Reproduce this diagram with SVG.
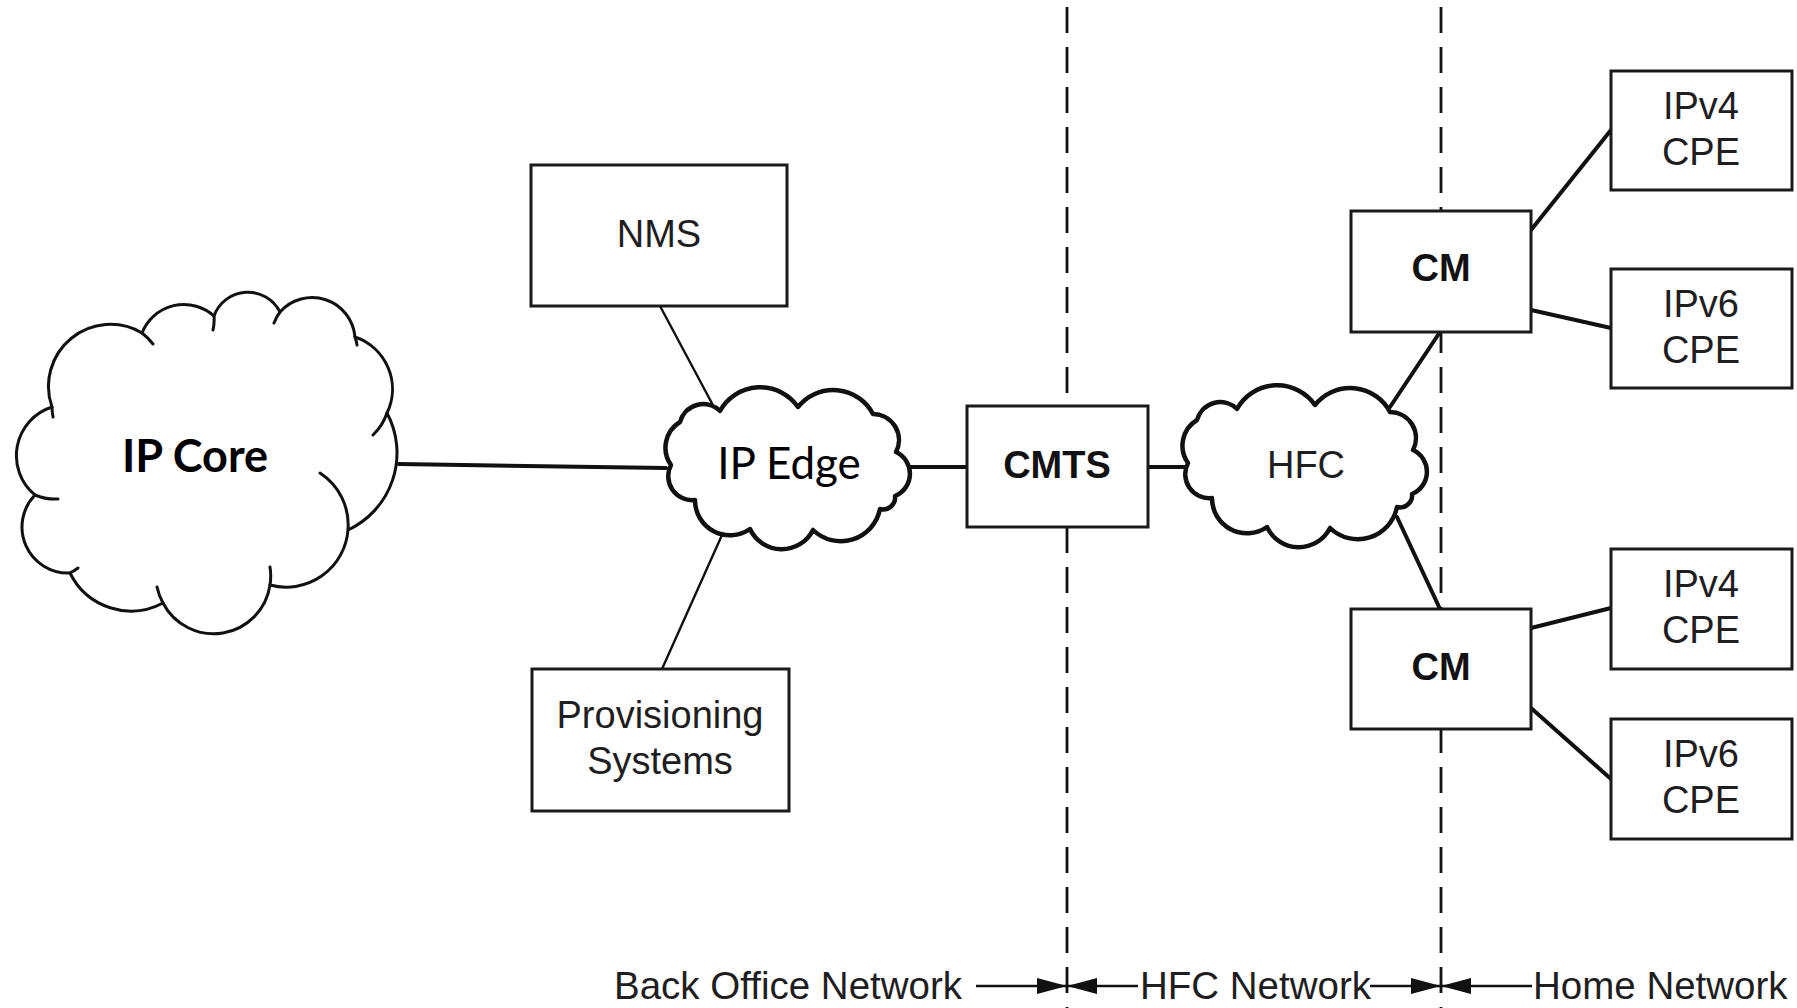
<svg xmlns="http://www.w3.org/2000/svg" width="1797" height="1008" viewBox="0 0 1797 1008">
  <style>
    .box { fill: #ffffff; stroke: #1a1a1a; stroke-width: 3; }
    .cloud { fill: #ffffff; stroke: #111111; stroke-linejoin: round; }
    .lbl { font-family: "Liberation Sans", Arial, sans-serif; font-size: 38px; fill: #1e1e1e; text-anchor: middle; }
    .bold { font-weight: bold; fill: #111111; }
    .cal { font-family: Lato, "Liberation Sans", sans-serif; fill: #000000; text-anchor: middle; }
    .link { stroke: #111111; fill: none; stroke-linecap: round; }
    .thin { stroke-width: 2.4; }
    .thick { stroke-width: 4; }
    .bound { stroke: #111111; stroke-width: 2.8; stroke-dasharray: 26 14; fill: none; }
    .span { stroke: #111111; stroke-width: 2.6; fill: none; marker-end: url(#arrow); }
    .foot { font-family: "Liberation Sans", Arial, sans-serif; font-size: 38.5px; fill: #1e1e1e; }
  </style>
  <defs>
    <marker id="arrow" viewBox="0 0 30 16" refX="30" refY="8" markerWidth="30" markerHeight="16" markerUnits="userSpaceOnUse" orient="auto">
      <path d="M0,0 L30,8 L0,16 Z" fill="#111111"/>
    </marker>
    <!-- small cloud outline, drawn at the HFC position -->
    <path id="smallCloud" d="M 1188 463 A 30 30 0 0 1 1197 420 A 24 24 0 0 1 1237 409 A 46 46 0 0 1 1315 405 A 45 45 0 0 1 1390 412 A 26 26 0 0 1 1413 450 A 24 24 0 0 1 1412 494 A 12 12 0 0 1 1397 507 A 40 40 0 0 1 1330 528 A 35 35 0 0 1 1267 527 A 35 35 0 0 1 1212 498 A 24 24 0 0 1 1188 463 Z"/>
  </defs>

  <rect width="1797" height="1008" fill="#ffffff"/>

  <!-- network boundaries -->
  <g id="boundaries">
    <line class="bound" x1="1067" y1="7" x2="1067" y2="1008"/>
    <line class="bound" x1="1441" y1="7" x2="1441" y2="1008"/>
  </g>

  <!-- connectors -->
  <g id="connectors">
    <line class="link thick" x1="399" y1="464" x2="666" y2="468"/>
    <line class="link thin" x1="660" y1="306" x2="715" y2="409"/>
    <line class="link thin" x1="722" y1="535" x2="662" y2="669"/>
    <line class="link thick" x1="906" y1="467" x2="967" y2="467"/>
    <line class="link thick" x1="1148" y1="467" x2="1190" y2="467"/>
    <line class="link thick" x1="1390" y1="407" x2="1440" y2="332"/>
    <line class="link thick" x1="1397" y1="517" x2="1440" y2="609"/>
    <line class="link thick" x1="1531" y1="230" x2="1611" y2="130"/>
    <line class="link thick" x1="1531" y1="310" x2="1611" y2="328"/>
    <line class="link thick" x1="1531" y1="628" x2="1611" y2="608"/>
    <line class="link thick" x1="1531" y1="708" x2="1611" y2="779"/>
  </g>

  <!-- IP Core -->
  <g id="ip-core">
    <path class="cloud" stroke-width="3" d="M 52 407 A 62 62 0 0 1 142 333 A 45 45 0 0 1 214 316 A 36 36 0 0 1 280 312 A 43 43 0 0 1 355 337 A 55 55 0 0 1 387 413 A 85 85 0 0 1 348 530 A 62 62 0 0 1 270 585 A 57 57 0 0 1 163 603 A 68 68 0 0 1 70 573 A 46 46 0 0 1 35 495 A 51 51 0 0 1 52 407 Z"/>
    <path class="link" stroke-width="3" d="M 53 417 A 62 62 0 0 1 52 407 M 142 333 A 62 62 0 0 1 153 344 M 214 316 A 45 45 0 0 1 213 330 M 274 323 A 43 43 0 0 1 280 312 M 355 337 A 43 43 0 0 1 357 345 M 387 413 A 55 55 0 0 1 373 435 M 320 473 A 62 62 0 0 1 348 530 M 270 567 A 57 57 0 0 1 270 585 M 163 603 A 57 57 0 0 1 157 587 M 78 568 A 46 46 0 0 1 70 573 M 58 499 A 51 51 0 0 1 35 495"/>
    <text class="cal" x="195" y="472" font-size="45" font-weight="bold">IP Core</text>
  </g>

  <!-- IP Edge -->
  <g id="ip-edge">
    <use href="#smallCloud" class="cloud" stroke-width="4.5" transform="translate(-517,2)"/>
    <text class="cal" x="789" y="479" font-size="44">IP Edge</text>
  </g>

  <!-- NMS -->
  <g id="nms">
    <rect class="box" x="531" y="165" width="256" height="141"/>
    <text class="lbl" x="659" y="247">NMS</text>
  </g>

  <!-- Provisioning Systems -->
  <g id="provisioning">
    <rect class="box" x="532" y="669" width="257" height="142"/>
    <text class="lbl" x="660" y="728">Provisioning</text>
    <text class="lbl" x="660" y="774">Systems</text>
  </g>

  <!-- CMTS -->
  <g id="cmts">
    <rect class="box" x="967" y="406" width="181" height="121"/>
    <text class="lbl bold" x="1057" y="478" font-size="37.5">CMTS</text>
  </g>

  <!-- HFC -->
  <g id="hfc">
    <use href="#smallCloud" class="cloud" stroke-width="4.5"/>
    <text class="lbl" x="1306" y="478">HFC</text>
  </g>

  <!-- Cable modems -->
  <g id="cm-1">
    <rect class="box" x="1351" y="211" width="180" height="121"/>
    <text class="lbl bold" x="1441" y="281">CM</text>
  </g>
  <g id="cm-2">
    <rect class="box" x="1351" y="609" width="180" height="120"/>
    <text class="lbl bold" x="1441" y="680">CM</text>
  </g>

  <!-- CPE devices -->
  <g id="cpe-ipv4-1">
    <rect class="box" x="1611" y="71" width="181" height="119"/>
    <text class="lbl" x="1701" y="119">IPv4</text>
    <text class="lbl" x="1701" y="165">CPE</text>
  </g>
  <g id="cpe-ipv6-1">
    <rect class="box" x="1611" y="269" width="181" height="119"/>
    <text class="lbl" x="1701" y="317">IPv6</text>
    <text class="lbl" x="1701" y="363">CPE</text>
  </g>
  <g id="cpe-ipv4-2">
    <rect class="box" x="1611" y="549" width="181" height="120"/>
    <text class="lbl" x="1701" y="597">IPv4</text>
    <text class="lbl" x="1701" y="643">CPE</text>
  </g>
  <g id="cpe-ipv6-2">
    <rect class="box" x="1611" y="719" width="181" height="120"/>
    <text class="lbl" x="1701" y="767">IPv6</text>
    <text class="lbl" x="1701" y="813">CPE</text>
  </g>

  <!-- network spans along the bottom -->
  <g id="spans">
    <line class="span" x1="976" y1="986" x2="1067" y2="986"/>
    <line class="span" x1="1138" y1="986" x2="1067" y2="986"/>
    <line class="span" x1="1370" y1="986" x2="1441" y2="986"/>
    <line class="span" x1="1532" y1="986" x2="1441" y2="986"/>
    <text class="foot" x="614" y="999">Back Office Network</text>
    <text class="foot" x="1140" y="999">HFC Network</text>
    <text class="foot" x="1533" y="999">Home Network</text>
  </g>
</svg>
